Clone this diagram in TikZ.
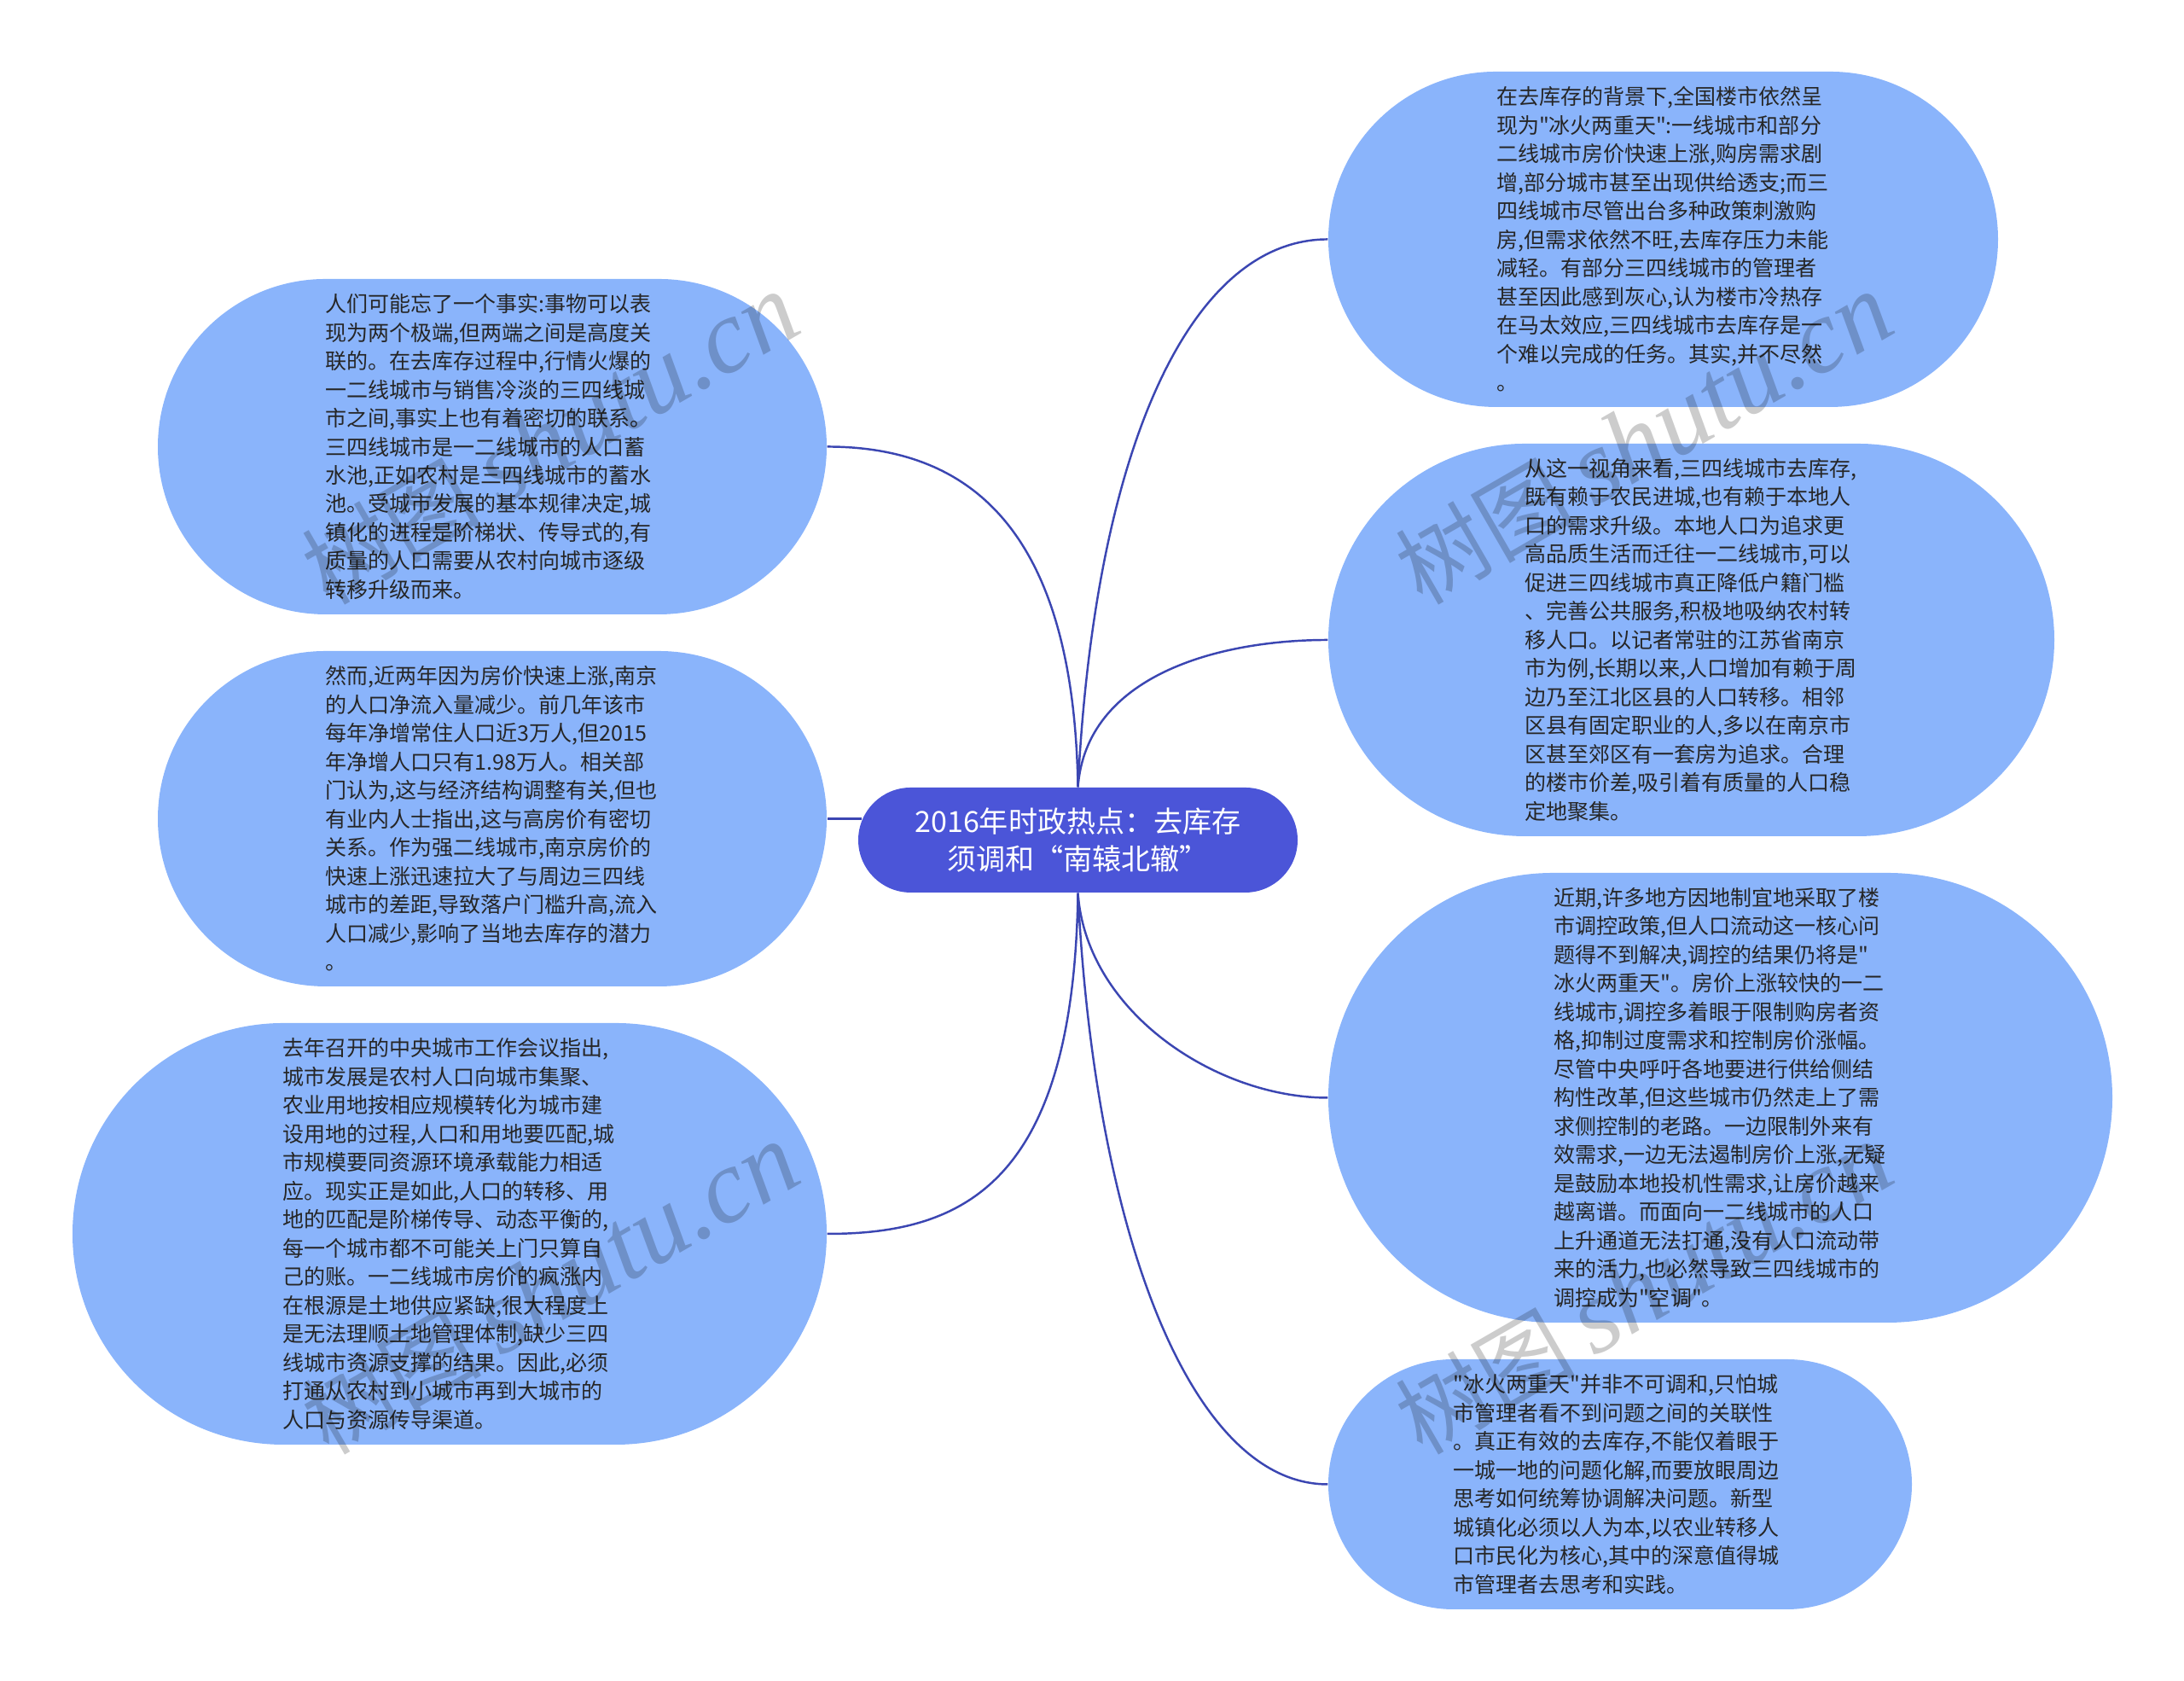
\documentclass[tikz,border=0pt]{standalone}
\usepackage{fontspec}
\newfontfamily\cjk{Noto Sans CJK SC}
\newfontfamily\markfont{Liberation Serif}
\usepackage{tikz}
\usetikzlibrary{shapes.misc}

\definecolor{rootblue}{HTML}{4B55D8}
\definecolor{leafblue}{HTML}{8AB4FB}
\definecolor{linkblue}{HTML}{3B46B2}

\tikzset{
  rootnode/.style={rounded rectangle, fill=rootblue, text=white, inner sep=0pt, align=center,
    font=\cjk\fontsize{9.7}{12.5}\selectfont},
  leafnode/.style={rounded rectangle, fill=leafblue, text=black!85, inner sep=0pt, align=left,
    text width=3.91cm, font=\cjk\fontsize{7.12}{9.53}\selectfont},
  link/.style={linkblue, line width=0.7pt},
  markword/.style={black, opacity=0.2, rotate=30, font=\cjk\fontsize{30}{30}\selectfont}
}

\begin{document}
\begin{tikzpicture}
\useasboundingbox (0,0) rectangle (25.6,19.7);

\node[rootnode, minimum width=5.15cm, minimum height=1.23cm] (root) at (12.635,9.855)
{2016年时政热点：去库存\\须调和“南辕北辙”};

\node[leafnode, minimum width=7.84cm, minimum height=3.93cm] (lone) at (5.77,14.465)
{人们可能忘了一个事实:事物可以表\\现为两个极端,但两端之间是高度关\\联的。在去库存过程中,行情火爆的\\一二线城市与销售冷淡的三四线城\\市之间,事实上也有着密切的联系。\\三四线城市是一二线城市的人口蓄\\水池,正如农村是三四线城市的蓄水\\池。受城市发展的基本规律决定,城\\镇化的进程是阶梯状、传导式的,有\\质量的人口需要从农村向城市逐级\\转移升级而来。};
\node[leafnode, minimum width=7.84cm, minimum height=3.93cm] (ltwo) at (5.77,10.105)
{然而,近两年因为房价快速上涨,南京\\的人口净流入量减少。前几年该市\\每年净增常住人口近3万人,但2015\\年净增人口只有1.98万人。相关部\\门认为,这与经济结构调整有关,但也\\有业内人士指出,这与高房价有密切\\关系。作为强二线城市,南京房价的\\快速上涨迅速拉大了与周边三四线\\城市的差距,导致落户门槛升高,流入\\人口减少,影响了当地去库存的潜力\\。};
\node[leafnode, minimum width=8.84cm, minimum height=4.94cm] (lthree) at (5.27,5.24)
{去年召开的中央城市工作会议指出,\\城市发展是农村人口向城市集聚、\\农业用地按相应规模转化为城市建\\设用地的过程,人口和用地要匹配,城\\市规模要同资源环境承载能力相适\\应。现实正是如此,人口的转移、用\\地的匹配是阶梯传导、动态平衡的,\\每一个城市都不可能关上门只算自\\己的账。一二线城市房价的疯涨内\\在根源是土地供应紧缺,很大程度上\\是无法理顺土地管理体制,缺少三四\\线城市资源支撑的结果。因此,必须\\打通从农村到小城市再到大城市的\\人口与资源传导渠道。};

\node[leafnode, minimum width=7.85cm, minimum height=3.93cm] (rone) at (19.495,16.895)
{在去库存的背景下,全国楼市依然呈\\现为"冰火两重天":一线城市和部分\\二线城市房价快速上涨,购房需求剧\\增,部分城市甚至出现供给透支;而三\\四线城市尽管出台多种政策刺激购\\房,但需求依然不旺,去库存压力未能\\减轻。有部分三四线城市的管理者\\甚至因此感到灰心,认为楼市冷热存\\在马太效应,三四线城市去库存是一\\个难以完成的任务。其实,并不尽然\\。};
\node[leafnode, minimum width=8.51cm, minimum height=4.6cm] (rtwo) at (19.825,12.2)
{从这一视角来看,三四线城市去库存,\\既有赖于农民进城,也有赖于本地人\\口的需求升级。本地人口为追求更\\高品质生活而迁往一二线城市,可以\\促进三四线城市真正降低户籍门槛\\、完善公共服务,积极地吸纳农村转\\移人口。以记者常驻的江苏省南京\\市为例,长期以来,人口增加有赖于周\\边乃至江北区县的人口转移。相邻\\区县有固定职业的人,多以在南京市\\区甚至郊区有一套房为追求。合理\\的楼市价差,吸引着有质量的人口稳\\定地聚集。};
\node[leafnode, minimum width=9.19cm, minimum height=5.27cm] (rthree) at (20.165,6.835)
{近期,许多地方因地制宜地采取了楼\\市调控政策,但人口流动这一核心问\\题得不到解决,调控的结果仍将是"\\冰火两重天"。房价上涨较快的一二\\线城市,调控多着眼于限制购房者资\\格,抑制过度需求和控制房价涨幅。\\尽管中央呼吁各地要进行供给侧结\\构性改革,但这些城市仍然走上了需\\求侧控制的老路。一边限制外来有\\效需求,一边无法遏制房价上涨,无疑\\是鼓励本地投机性需求,让房价越来\\越离谱。而面向一二线城市的人口\\上升通道无法打通,没有人口流动带\\来的活力,也必然导致三四线城市的\\调控成为"空调"。};
\node[leafnode, minimum width=6.84cm, minimum height=2.93cm] (rfour) at (18.99,2.305)
{"冰火两重天"并非不可调和,只怕城\\市管理者看不到问题之间的关联性\\。真正有效的去库存,不能仅着眼于\\一城一地的问题化解,而要放眼周边\\思考如何统筹协调解决问题。新型\\城镇化必须以人为本,以农业转移人\\口市民化为核心,其中的深意值得城\\市管理者去思考和实践。};

\coordinate (rootleft) at ([xshift=0.05cm]ltwo.east -| root.west);

% links out of the root
\draw[link] (root.north) .. controls +(-0.05,3.1) and +(1.6,0) .. (lone.east);
\draw[link] (rootleft) -- (ltwo.east);
\draw[link] (root.south) .. controls +(-0.05,-3.4) and +(1.6,0) .. (lthree.east);
\draw[link] (root.north) .. controls +(0.2,4) and +(-1.6,0) .. (rone.west);
\draw[link] (root.north) .. controls +(0.1,1.3) and +(-1.3,0) .. (rtwo.west);
\draw[link] (root.south) .. controls +(0.1,-1.4) and +(-1.3,0) .. (rthree.west);
\draw[link] (root.south) .. controls +(0.2,-4) and +(-1.6,0) .. (rfour.west);

% watermark
\foreach \x/\y [count=\i] in {6.45/14.56, 19.27/14.56, 6.45/4.6, 19.27/4.6}
\node[markword] (mark\i) at (\x,\y) {树图\hspace{0.2em}{\markfont\itshape\fontsize{35}{35}\selectfont shutu.cn}};

\end{tikzpicture}
\end{document}
